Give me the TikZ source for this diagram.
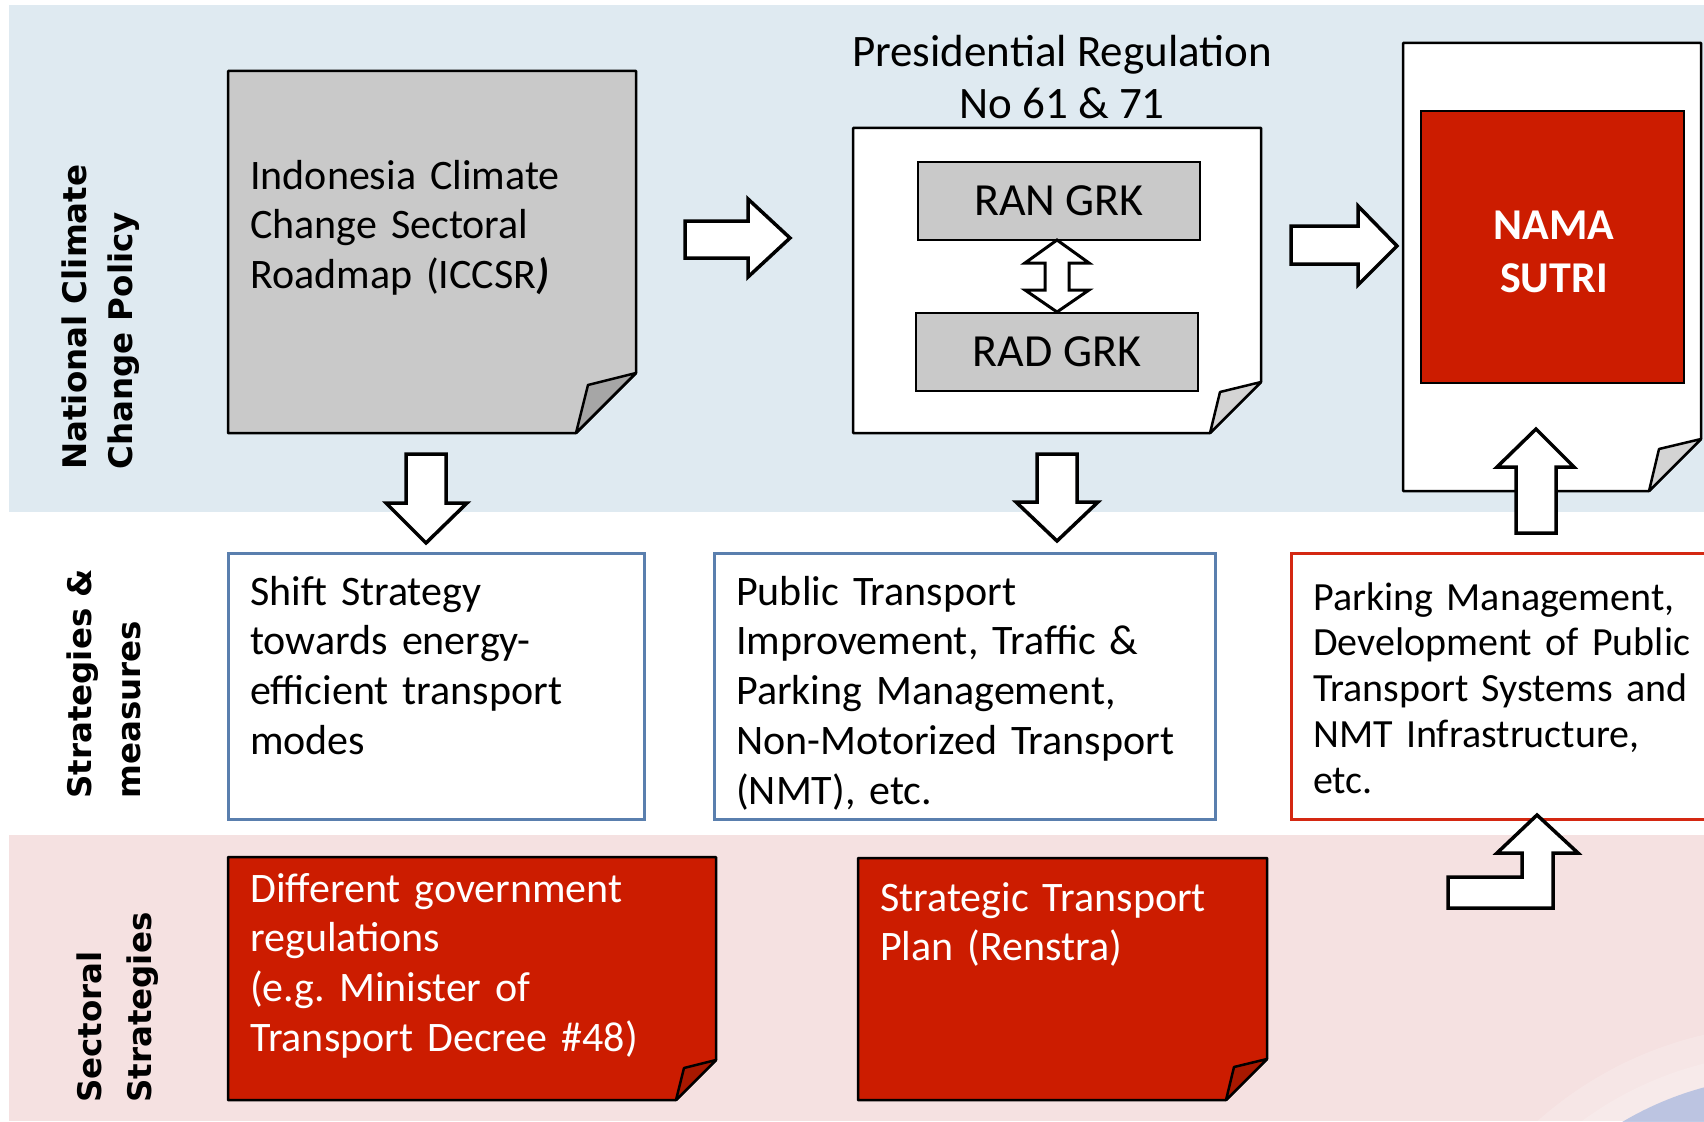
\documentclass[tikz,border=0pt]{standalone}
\usepackage{fontspec}
\setmainfont{Carlito}
\newfontfamily\lblfont{DejaVu Sans}
\frenchspacing
\definecolor{bluebg}{HTML}{DFEAF1}
\definecolor{pinkbg}{HTML}{F5E1E1}
\definecolor{docred}{HTML}{CC1C00}
\definecolor{foldred}{HTML}{A81800}
\definecolor{docgray}{HTML}{C9C9C9}
\definecolor{foldgray}{HTML}{A6A6A6}
\definecolor{foldlight}{HTML}{D4D4D4}
\definecolor{boxblue}{HTML}{5A7FAE}
\definecolor{boxred}{HTML}{D42812}
\definecolor{globeblue}{HTML}{A9B8DE}
\newcommand\mytopstrut[1]{\rule{0pt}{#1pt}}
\begin{document}
\begin{tikzpicture}[x=1pt,y=-1pt,
  blk/.style={draw=black, line width=3.5pt, fill=white, line join=miter, miter limit=4},
  docline/.style={draw=black, line width=2.5pt, line join=round},
  bodytxt/.style={inner sep=0pt, anchor=north west, align=left, text width=520pt,
    font=\fontsize{42}{49.7}\selectfont},
  lbl/.style={inner sep=0pt, anchor=north west, rotate=90, align=left,
    font=\lblfont\bfseries\fontsize{32.5}{46}\selectfont},
  midbox/.style={line width=3pt, fill=white, inner sep=0pt},
  grkbox/.style={draw=black, line width=2.2pt, fill=docgray, inner sep=0pt,
    minimum width=282pt, minimum height=78pt, font=\fontsize{46}{50}\selectfont}]
\useasboundingbox (0,0) rectangle (1704,1121);
\fill[white] (0,0) rectangle (1704,1121);
% bands
\fill[bluebg] (9,5) rectangle (1704,512);
\fill[pinkbg] (9,835) rectangle (1704,1121);
% faint globe in the corner
\begin{scope}
  \clip (9,835) rectangle (1704,1121);
  \fill[white, opacity=0.18] (1790,1405) circle (380);
  \fill[white, opacity=0.18] (1790,1405) circle (352);
  \fill[globeblue, opacity=0.75] (1790,1405) circle (329);
\end{scope}

% ---- row labels
\node[lbl] (lblnat) at (60,470) {\mytopstrut{26}National Climate\\Change Policy};
\node[lbl, font=\lblfont\bfseries\fontsize{32.5}{49}\selectfont] (lblstr) at (65,799) {\mytopstrut{26}Strategies \&\\measures};
\node[lbl, font=\lblfont\bfseries\fontsize{32.5}{50}\selectfont] (lblsec) at (75,1103) {\mytopstrut{26}Sectoral\\Strategies};

% ---- ICCSR document
\filldraw[fill=docgray, docline] (228,71) -- (636,71) -- (636,373) -- (576,433) -- (228,433) -- cycle;
\filldraw[fill=foldgray, docline] (636,373) -- (588,385) -- (576,433) -- cycle;
\node[bodytxt] (iccsr) at (250,155) {\mytopstrut{34}Indonesia Climate\\Change Sectoral\\Roadmap (ICCSR\textbf{\textit{)}}};

% ---- Presidential regulation document
\node[inner sep=0pt, anchor=north, align=center, font=\fontsize{45}{52}\selectfont] (pres) at (1062,30)
  {\mytopstrut{36}Presidential Regulation\\No 61 \& 71};
\filldraw[fill=white, docline] (853,128) -- (1261,128) -- (1261,382) -- (1210,433) -- (853,433) -- cycle;
\filldraw[fill=foldlight, docline] (1261,382) -- (1220,392) -- (1210,433) -- cycle;
\node[grkbox] (ran) at (1059,201) {\raisebox{-3pt}{RAN GRK}};
\node[grkbox] (rad) at (1057,352) {\raisebox{-3pt}{RAD GRK}};
\draw[blk, line width=3pt] (1057,240) -- (1089,263) -- (1069,263) -- (1069,290) -- (1089,290)
  -- (1057,312) -- (1025,290) -- (1045,290) -- (1045,263) -- (1025,263) -- cycle;

% ---- NAMA document
\filldraw[fill=white, docline] (1403,43) -- (1701,43) -- (1701,439) -- (1649,491) -- (1403,491) -- cycle;
\filldraw[fill=foldlight, docline] (1701,439) -- (1659,449) -- (1649,491) -- cycle;
\node[draw=black, line width=2.2pt, fill=docred, minimum width=263pt, minimum height=272pt, inner sep=0pt] (nama) at (1552.5,247) {};
\node[inner sep=0pt, anchor=north, align=center, text=white, font=\bfseries\fontsize{44}{53}\selectfont] (namatxt) at (1554,205)
  {\mytopstrut{34}NAMA\\SUTRI};

% ---- horizontal arrows
\draw[blk] (685,221) -- (748,221) -- (748,199) -- (790,238) -- (748,277) -- (748,258) -- (685,258) -- cycle;
\draw[blk] (1291,226) -- (1358,226) -- (1358,206) -- (1397,246) -- (1358,285) -- (1358,264) -- (1291,264) -- cycle;
% ---- vertical arrows
\draw[blk] (406,454) -- (446,454) -- (446,503) -- (467,503) -- (426,543) -- (386,503) -- (406,503) -- cycle;
\draw[blk] (1037,454) -- (1077,454) -- (1077,502) -- (1098,502) -- (1057,541) -- (1016,502) -- (1037,502) -- cycle;
\draw[blk] (1516,533) -- (1556,533) -- (1556,467) -- (1574,467) -- (1536,429) -- (1497,467) -- (1516,467) -- cycle;

% ---- strategies & measures boxes
\node[midbox, draw=boxblue, minimum width=416pt, minimum height=266pt] (shift) at (436,686) {};
\node[bodytxt] (shifttxt) at (250,571) {\mytopstrut{34}Shift Strategy\\towards energy-\\efficient transport\\modes};
\node[midbox, draw=boxblue, minimum width=501pt, minimum height=266pt] (pubtr) at (964.5,686) {};
\node[bodytxt] (pubtrtxt) at (736,571) {\mytopstrut{34}Public Transport\\Improvement, Traffic \&\\Parking Management,\\Non-Motorized Transport\\(NMT), etc.};
\node[midbox, draw=boxred, minimum width=430pt, minimum height=266pt] (park) at (1506,686) {};
\node[bodytxt, font=\fontsize{40}{45.75}\selectfont] (parktxt) at (1313,578) {\mytopstrut{32}Parking Management,\\Development of Public\\Transport Systems and\\NMT Infrastructure,\\etc.};

% ---- bent arrow
\draw[blk] (1537,815) -- (1578,853) -- (1553,853) -- (1553,908) -- (1448,908) -- (1448,877)
  -- (1522,877) -- (1522,853) -- (1497,853) -- cycle;

% ---- sectoral strategy documents
\filldraw[fill=docred, docline] (228,857) -- (716,857) -- (716,1060) -- (676,1100) -- (228,1100) -- cycle;
\filldraw[fill=foldred, docline] (716,1060) -- (684,1068) -- (676,1100) -- cycle;
\node[bodytxt, text=white] (regs) at (250,868) {\mytopstrut{34}Different government\\regulations\\(e.g. Minister of\\Transport Decree \#48)};
\filldraw[fill=docred, docline] (858,858) -- (1267,858) -- (1267,1059) -- (1226,1100) -- (858,1100) -- cycle;
\filldraw[fill=foldred, docline] (1267,1059) -- (1234,1067) -- (1226,1100) -- cycle;
\node[bodytxt, text=white] (renstra) at (880,877) {\mytopstrut{34}Strategic Transport\\Plan (Renstra)};
\end{tikzpicture}
\end{document}
